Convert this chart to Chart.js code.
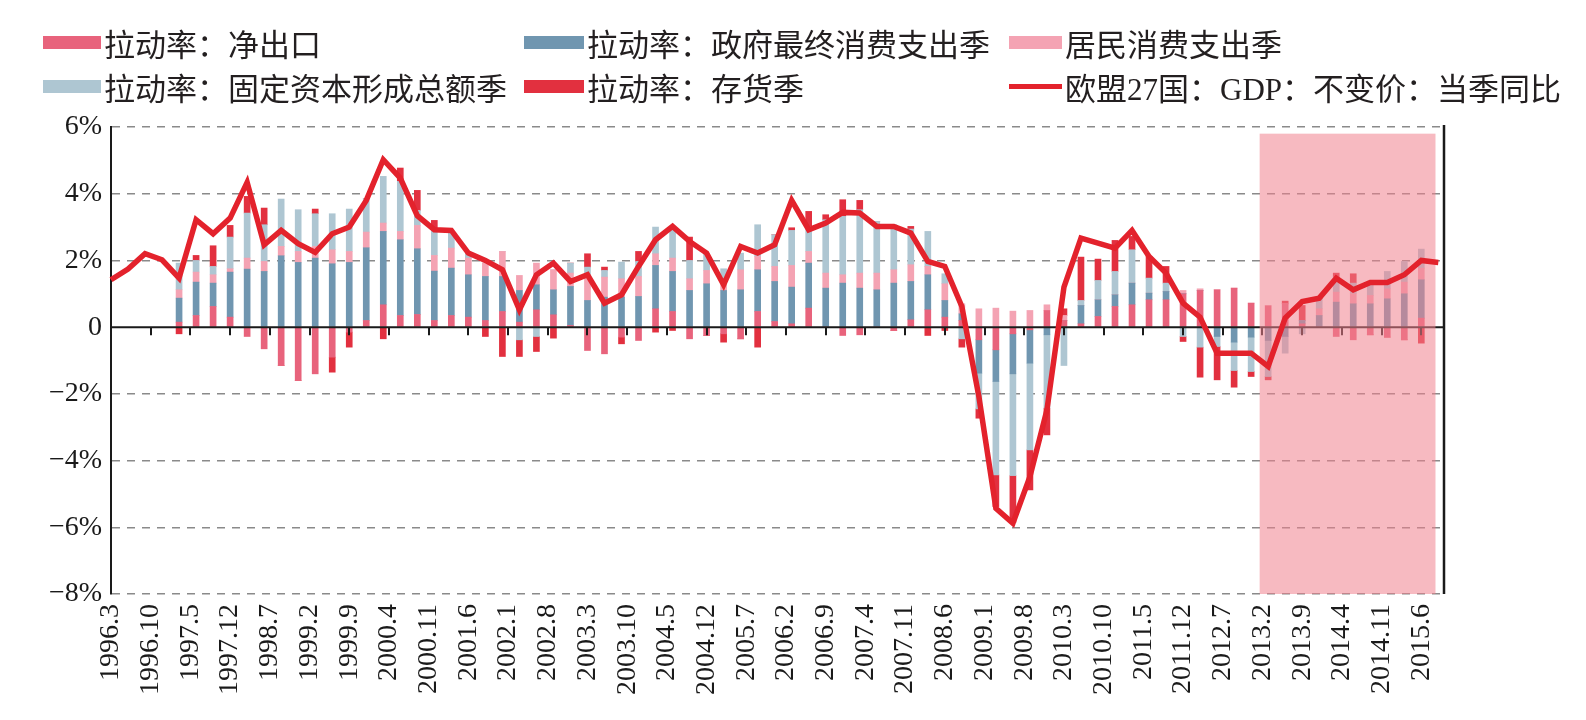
<!DOCTYPE html>
<html>
<head>
<meta charset="utf-8">
<script src="https://cdn.jsdelivr.net/npm/chart.js@4.4.0/dist/chart.umd.min.js"></script>
<style>
  body { margin: 0; background: #fff; }
  #wrap { position: relative; width: 1586px; height: 720px; overflow: hidden; }
  #chart { position: absolute; left: 0; top: 0; }
  .lg { position: absolute; height: 30px; display: flex; align-items: center; white-space: nowrap;
        font-family: "Liberation Serif", "Noto Sans CJK SC", serif; font-size: 31px; color: #231f20; }
  .sw { display: inline-block; height: 13px; margin-right: 3px; }
</style>
</head>
<body>
<div id="wrap">
  <canvas id="chart" width="1586" height="720"></canvas>
  <div class="lg" style="left:43px;top:27px"><span class="sw" style="width:58px;background:#e8637c"></span>拉动率：净出口</div>
  <div class="lg" style="left:524px;top:27px"><span class="sw" style="width:60px;background:#7096b0"></span>拉动率：政府最终消费支出季</div>
  <div class="lg" style="left:1009px;top:27px"><span class="sw" style="width:53px;background:#f4a3b3"></span>居民消费支出季</div>
  <div class="lg" style="left:43px;top:71px"><span class="sw" style="width:58px;background:#aec6d2"></span>拉动率：固定资本形成总额季</div>
  <div class="lg" style="left:524px;top:71px"><span class="sw" style="width:60px;background:#e2303f"></span>拉动率：存货季</div>
  <div class="lg" style="left:1009px;top:71px"><span class="sw" style="width:53px;height:5px;background:#e3222c"></span>欧盟27国：GDP：不变价：当季同比</div>
</div>
<script>
// monthly category axis 1996.3 - 2015.10, data sits on quarter months
const months = [];
for (let y = 1996, m = 3; y < 2015 || (y === 2015 && m <= 10); ) {
  months.push(y + '.' + m);
  m++;
  if (m > 12) { m = 1; y++; }
}

const tickLabels = ['1996.3','1996.10','1997.5','1997.12','1998.7','1999.2','1999.9','2000.4','2000.11',
  '2001.6','2002.1','2002.8','2003.3','2003.10','2004.5','2004.12','2005.7','2006.2','2006.9','2007.4',
  '2007.11','2008.6','2009.1','2009.8','2010.3','2010.10','2011.5','2011.12','2012.7','2013.2','2013.9',
  '2014.4','2014.11','2015.6'];

const yTicks = [-8, -6, -4, -2, 0, 2, 4, 6];

// quarterly values, 1996Q1 .. 2015Q3 (%)
const gdp = [1.42,1.74,2.2,2.02,1.47,3.22,2.8,3.27,4.34,2.47,2.9,2.5,2.24,2.8,3.0,3.8,5.02,4.47,3.34,2.92,
  2.9,2.22,2.0,1.72,0.52,1.57,1.92,1.37,1.57,0.72,0.97,1.82,2.62,3.02,2.57,2.22,1.27,2.42,2.22,2.47,
  3.8,2.92,3.12,3.44,3.42,3.02,3.02,2.82,1.97,1.82,0.62,-2.08,-5.43,-5.88,-4.48,-2.48,1.2,2.67,2.52,2.37,
  2.9,2.12,1.62,0.72,0.3,-0.78,-0.78,-0.78,-1.18,0.27,0.77,0.87,1.47,1.12,1.34,1.34,1.57,2.0,1.94];

const netExports = [null,null,null,null,0.15,0.35,0.62,0.3,-0.28,-0.65,-1.15,-1.6,-1.4,-0.9,-0.15,0.2,0.67,0.35,0.38,0.2,
  0.35,0.3,0.2,0.47,0.15,0.52,0.37,0.05,-0.7,-0.8,-0.3,-0.4,0.55,0.47,-0.35,-0.25,-0.2,-0.35,0.47,0.17,
  0.1,0.57,0,-0.25,-0.23,0,-0.1,0.22,0.52,0.3,0.2,-0.38,-0.68,-0.2,-0.08,0.5,0.2,0.1,0.32,0.62,
  0.67,0.82,0.82,1.0,1.1,1.12,1.17,0.72,0.64,0.7,0.1,0,-0.28,-0.38,-0.23,-0.3,-0.38,0.27,null];

const govt = [null,null,null,null,0.72,1.0,0.7,1.35,1.74,1.67,2.14,1.94,2.07,1.9,1.94,2.18,2.2,2.27,1.97,1.48,
  1.42,1.27,1.32,1.05,0.95,0.75,0.75,1.17,0.8,0.9,0.9,0.92,1.3,1.2,1.1,1.3,1.1,1.12,1.25,1.2,
  1.1,1.35,1.17,1.32,1.17,1.12,1.32,1.15,1.05,0.5,0.2,-1.0,-0.95,-1.2,-1.0,-0.23,0,0.55,0.5,0.35,
  0.65,0.2,0.25,0,0,-0.28,-0.45,-0.3,-0.4,-0.28,0.1,0.35,0.75,0.7,0.7,0.85,1.0,1.15,null];

const households = [null,null,null,null,0.25,0.3,0.25,0.1,0.33,0.3,0.28,0.33,0.35,0.42,0.33,0.47,0.25,0.25,0.7,0.47,
  0.6,0.5,0.4,0.75,0.45,0.65,0.6,0.4,0.7,0.6,0.55,0.6,0.35,0.4,0.35,0.4,0.3,0.6,0.4,0.45,
  0.65,0.35,0.45,0.25,0.45,0.5,0.4,0.5,0.25,0.5,0.3,0.55,0.57,0.48,0.5,0.17,0.15,0,0,0,
  0,0,0,0.1,0.05,0,0,0,0,0,0,0.2,0.3,0.3,0.25,0.3,0.35,0.35,null];

const fixedCapital = [null,null,null,null,0.8,0.35,0.25,0.95,1.35,1.1,1.42,1.25,0.98,1.08,1.27,1.0,1.4,1.5,0.45,0.75,
  0.5,0.13,0,0,-0.38,-0.28,0,0.3,0.3,0.2,0.5,0.45,0.8,0.85,0.55,0.5,0.35,0.5,0.95,0.95,
  1.05,0.75,1.6,1.75,1.9,1.55,1.35,1.07,1.05,0.3,-0.35,-1.07,-2.8,-3.05,-2.6,-2.2,-1.15,0.15,0.58,0.7,
  1.0,0.45,0.25,-0.28,-0.6,-0.3,-0.85,-1.03,-1.08,-0.5,-0.2,0.3,0.45,0.32,0.35,0.52,0.62,0.57,null];

const inventory = [null,null,null,null,-0.2,0.15,0.62,0.35,0.5,0.5,0,0,0.14,-0.45,-0.45,0,-0.35,0.4,0.6,0.3,
  0,0,-0.28,-0.88,-0.5,-0.45,-0.33,0,0.4,0.1,-0.2,0.3,-0.15,-0.1,0.7,0,-0.25,0,-0.6,0,
  0.08,0.45,0.15,0.5,0.28,0,0,0.08,-0.25,-0.1,-0.25,-0.28,-0.95,-1.4,-1.2,-0.8,0.2,1.3,0.64,0.93,
  0.4,0.65,0.5,-0.15,-0.9,-1.0,-0.5,-0.15,-0.1,0.08,0.45,0,0.12,0.28,0,0,0,-0.48,null];

// shaded forecast period
const shadeFrom = '2013.2';
const shadeTo = '2015.8';
const shadeTop = 5.8;

function toMonthly(series) {
  return months.map((_, i) => (i % 3 === 0 ? series[i / 3] : null));
}

function barSet(label, data, color) {
  return { type: 'bar', label: label, data: toMonthly(data), backgroundColor: color,
           borderWidth: 0, barThickness: 6, stack: 'c', order: 1 };
}

const overlay = {
  id: 'overlay',
  beforeDatasetDraw(chart, args) {
    if (args.meta.type !== 'line') return;
    const { ctx, chartArea } = chart;
    const x = chart.scales.x, y = chart.scales.y;
    const y0 = y.getPixelForValue(0);
    ctx.save();
    ctx.strokeStyle = '#1a1a1a';
    ctx.lineWidth = 2;
    ctx.beginPath();
    ctx.moveTo(chartArea.left, y0);
    ctx.lineTo(chartArea.right, y0);
    tickLabels.forEach(l => {
      const px = Math.round(x.getPixelForValue(months.indexOf(l)));
      ctx.moveTo(px, y0);
      ctx.lineTo(px, y0 + 8);
    });
    ctx.stroke();
    const half = (x.getPixelForValue(1) - x.getPixelForValue(0)) / 2;
    const sx1 = x.getPixelForValue(months.indexOf(shadeFrom)) - half;
    const sx2 = x.getPixelForValue(months.indexOf(shadeTo)) + half;
    const sy1 = y.getPixelForValue(shadeTop);
    const sy2 = y.getPixelForValue(y.min);
    ctx.fillStyle = 'rgba(240,130,142,0.55)';
    ctx.fillRect(sx1, sy1, sx2 - sx1, sy2 - sy1);
    ctx.restore();
  },
  afterDraw(chart) {
    const { ctx, chartArea } = chart;
    ctx.save();
    ctx.strokeStyle = '#1a1a1a';
    ctx.lineWidth = 2.5;
    ctx.beginPath();
    ctx.moveTo(chartArea.right, chartArea.top - 2);
    ctx.lineTo(chartArea.right, chartArea.bottom);
    ctx.stroke();
    ctx.restore();
  }
};

new Chart(document.getElementById('chart'), {
  data: {
    labels: months,
    datasets: [
      barSet('拉动率：净出口', netExports, '#e8637c'),
      barSet('拉动率：政府最终消费支出季', govt, '#7096b0'),
      barSet('居民消费支出季', households, '#f4a3b3'),
      barSet('拉动率：固定资本形成总额季', fixedCapital, '#aec6d2'),
      barSet('拉动率：存货季', inventory, '#e2303f'),
      { type: 'line', label: '欧盟27国：GDP：不变价：当季同比', data: toMonthly(gdp),
        borderColor: '#e3222c', borderWidth: 5.5, pointRadius: 0, tension: 0,
        spanGaps: true, stack: 'gdp', order: 0 }
    ]
  },
  options: {
    responsive: false,
    animation: false,
    layout: { padding: { top: 127, right: 142, left: 0, bottom: 0 } },
    plugins: { legend: { display: false }, tooltip: { enabled: false } },
    scales: {
      x: {
        stacked: true,
        offset: false,
        grid: { display: false, drawTicks: false },
        border: { display: false },
        afterFit(scale) { scale.height = 126; },
        ticks: {
          autoSkip: false, minRotation: 90, maxRotation: 90, padding: 10,
          color: '#1a1a1a', font: { family: 'Liberation Serif', size: 28 },
          callback(value) {
            const l = months[value];
            return tickLabels.includes(l) ? l : '';
          }
        }
      },
      y: {
        stacked: true,
        min: -8, max: 6,
        afterFit(scale) { scale.width = 111; },
        afterBuildTicks(scale) { scale.ticks = yTicks.map(v => ({ value: v })); },
        grid: {
          drawTicks: false, lineWidth: 1.5,
          color: c => (c.tick && c.tick.value === 0 ? 'rgba(0,0,0,0)' : '#8a8a8a')
        },
        border: { display: true, color: '#1a1a1a', width: 2, dash: [8, 7] },
        ticks: {
          padding: 9, color: '#1a1a1a', font: { family: 'Liberation Serif', size: 28 },
          callback(v) { return v === 0 ? '0' : (v < 0 ? '\u2212' + (-v) : v) + '%'; }
        }
      }
    }
  },
  plugins: [overlay]
});
</script>
</body>
</html>
